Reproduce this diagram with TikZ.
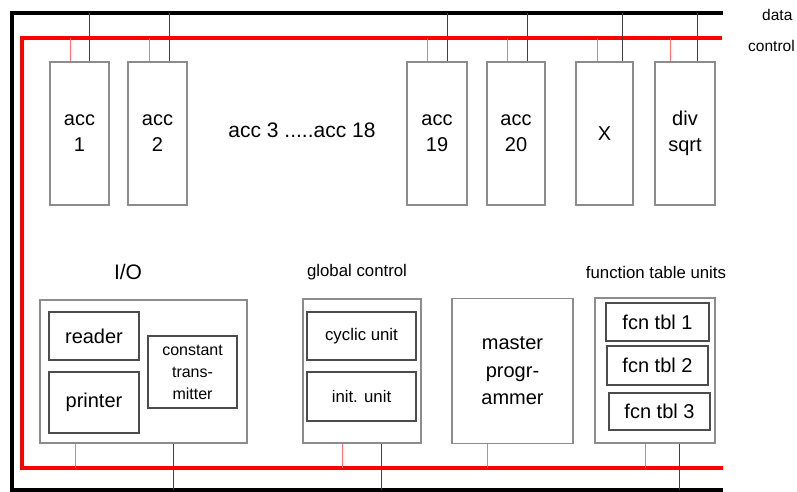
\documentclass[tikz,border=0pt]{standalone}
\usepackage{fontspec}
\setmainfont{Liberation Sans}
\begin{document}
\begin{tikzpicture}[x=1pt,y=-1pt,
  databus/.style={line width=3.6pt,black},
  ctlbus/.style={line width=3.6pt,red},
  dline/.style={line width=1pt,black!75},
  cline/.style={line width=1pt,red!55},
  unit/.style={draw=black!45,line width=1.1pt,inner sep=0pt,align=center,font=\fontsize{20}{26}\selectfont},
  sub/.style={draw=black!70,line width=1.1pt,inner sep=0pt,align=center,font=\fontsize{20}{26}\selectfont},
  lbl/.style={inner sep=0pt,font=\fontsize{16.8}{20}\selectfont},
  biglbl/.style={inner sep=0pt,font=\fontsize{21}{24}\selectfont},
  buslbl/.style={inner sep=0pt,anchor=west,font=\fontsize{15.5}{18}\selectfont}]
\useasboundingbox (0,0) rectangle (797,492);
% buses
\coordinate (dTR) at (723,13);
\coordinate (dTL) at (12,13);
\coordinate (dBL) at (12,490);
\coordinate (dBR) at (723,490);
\coordinate (cTR) at (722,38);
\coordinate (cTL) at (22,38);
\coordinate (cBL) at (22,468);
\coordinate (cBR) at (723,468);
\draw[databus] (dTR) -- (dTL) -- (dBL) -- (dBR);
\draw[ctlbus] (cTR) -- (cTL) -- (cBL) -- (cBR);
\node[buslbl] (ldata) at (762,15) {data};
\node[buslbl] (lctl) at (748,46) {control};
% top units
\node[unit,minimum width=59,minimum height=143] (acc1) at (79.5,133.5) {acc\\1};
\node[unit,minimum width=59,minimum height=143] (acc2) at (157.5,133.5) {acc\\2};
\node[biglbl] (acc3) at (302,130) {acc 3 .....acc 18};
\node[unit,minimum width=60,minimum height=143] (acc19) at (437,133.5) {acc\\19};
\node[unit,minimum width=58,minimum height=143] (acc20) at (516,133.5) {acc\\20};
\node[unit,minimum width=57,minimum height=143] (mul) at (604.5,133.5) {X};
\node[unit,minimum width=60,minimum height=143] (div) at (685,133.5) {div\\sqrt};
% top connectors
\foreach \n/\r/\b in {acc1/70/89, acc2/149/169, acc19/427/447, acc20/507/527, mul/597/622, div/670/697}{
  \draw[cline] (\n.north -| \r,0) -- (cTL -| \r,0);
  \draw[dline] (\n.north -| \b,0) -- (dTL -| \b,0);
}
% bottom groups
\node[biglbl] (lio) at (128,272) {I/O};
\node[lbl] (lgc) at (357,272) {global control};
\node[lbl] (lftu) at (656,272) {function table units};
\node[unit,minimum width=207,minimum height=143] (io) at (143.5,371.5) {};
\node[sub,minimum width=90,minimum height=48] (reader) at (94,336) {reader};
\node[sub,minimum width=90,minimum height=61] (printer) at (94,402.5) {printer};
\node[sub,minimum width=89,minimum height=72,font=\fontsize{16}{22}\selectfont] (const) at (192.5,372) {constant\\trans-\\mitter};
\node[unit,minimum width=118,minimum height=144] (gc) at (362,371) {};
\node[sub,minimum width=109,minimum height=48,font=\fontsize{16.8}{20}\selectfont] (cyc) at (361.5,336) {cyclic unit};
\node[sub,minimum width=109,minimum height=49,font=\fontsize{16.8}{20}\selectfont] (init) at (361.5,396.5) {init. unit};
\node[unit,minimum width=121,minimum height=145,font=\fontsize{20}{27.5}\selectfont] (mp) at (512.5,371) {master\\progr-\\ammer};
\node[unit,minimum width=120,minimum height=145] (ftu) at (655,370.5) {};
\node[sub,minimum width=103,minimum height=38] (f1) at (657.5,322) {fcn tbl 1};
\node[sub,minimum width=101,minimum height=39] (f2) at (657.5,365.5) {fcn tbl 2};
\node[sub,minimum width=101,minimum height=37] (f3) at (659.5,411.5) {fcn tbl 3};
% bottom connectors
\foreach \n/\r in {io/75, gc/342, mp/487, ftu/645}{
  \draw[cline] (\n.south -| \r,0) -- (cBL -| \r,0);
}
\foreach \n/\b in {io/173, gc/381, ftu/679}{
  \draw[dline] (\n.south -| \b,0) -- (dBL -| \b,0);
}
\end{tikzpicture}
\end{document}
